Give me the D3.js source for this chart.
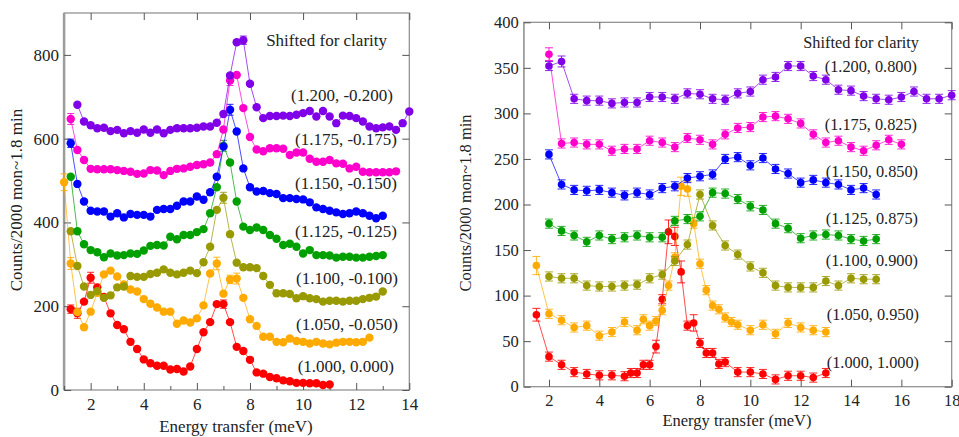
<!DOCTYPE html>
<html><head><meta charset="utf-8">
<script src="https://cdn.jsdelivr.net/npm/d3@7"></script>
<style>
body{margin:0;background:#fff}
svg{display:block;background:#fff}
svg text{font-family:"Liberation Serif","Tinos","Times New Roman","DejaVu Serif",serif !important;fill:#222}
</style>
</head><body>
<svg id="c" width="959" height="437"></svg>
<script>
// ---------------- DATA ----------------
const colors = ["#ff0000","#ffaa00","#999900","#00a000","#0000ff","#ff00cc","#8000e8"];

// Left panel: energy grid (meV)
const leftE = [1.00,1.25,1.50,1.75,2.00,2.25,2.50,2.75,3.00,3.25,3.50,3.75,4.00,4.25,4.50,4.75,5.00,5.25,5.50,5.75,6.00,6.25,6.50,6.75,7.00,7.25,7.50,7.75,8.00,8.25,8.50,8.75,9.00,9.25,9.50,9.75,10.00,10.25,10.50,10.75,11.00,11.25,11.50,11.75,12.00,12.25,12.50,12.75,13.00,13.25,13.50,13.75,14.00];
const leftLabels = ["(1.000, 0.000)","(1.050, -0.050)","(1.100, -0.100)","(1.125, -0.125)","(1.150, -0.150)","(1.175, -0.175)","(1.200, -0.200)"];
const leftRed =    [null,193,183,211,268,245,222,183,155,145,115,98,73,64,58,58,49,50,44,56,98,138,162,205,205,162,103,93,72,42,39,31,28,23,21,17,17,16,16,12,13,null,null,null,null,null,null,null,null,null,null,null,null];
const leftOrange = [496,302,186,150,187,232,276,285,271,252,240,235,217,206,197,187,187,158,166,161,171,202,278,302,230,264,266,220,169,153,127,127,115,114,123,117,115,111,115,111,109,113,115,115,114,115,125,null,null,null,null,null,null];
const leftOlive =  [null,379,296,247,227,236,220,226,245,247,272,270,270,277,280,288,280,276,280,285,279,305,342,430,459,372,304,293,293,291,272,251,231,231,229,219,224,219,217,211,213,213,211,213,213,217,220,223,235,null,null,null,null];
const leftGreen =  [null,509,379,348,334,329,317,326,321,322,326,325,333,344,346,345,366,360,370,370,377,384,422,484,583,543,450,390,382,388,382,370,361,346,349,342,326,334,322,322,321,316,318,318,316,316,318,320,322,null,null,null,null];
const leftBlue =   [null,589,492,450,428,426,426,414,422,412,420,418,418,414,430,432,432,440,450,450,462,454,472,509,581,669,617,529,484,474,475,470,468,458,458,456,455,448,436,432,428,424,420,422,426,422,416,410,416,null,null,null,null];
const leftMagenta =[null,647,573,549,528,527,527,527,525,523,521,516,517,525,524,513,523,528,529,533,537,539,543,563,622,739,752,673,604,574,570,577,577,576,561,567,567,552,545,545,549,541,540,529,533,521,520,520,520,520,522,null,null];
const leftPurple = [null,null,681,641,632,625,626,618,621,613,618,614,622,614,622,613,621,625,625,625,626,629,629,638,659,751,830,835,731,675,649,654,654,655,654,657,661,666,653,666,653,637,655,654,649,641,629,625,627,629,621,637,665];
const leftTicksMajor = [2,4,6,8,10,12,14];
const leftTicksMinor = [1,3,5,7,9,11,13];
const leftYTicks = [0,200,400,600,800];

// Right panel: energy grid (meV)
const rightE = [1.5,2,2.5,3,3.5,4,4.5,5,5.25,5.5,5.75,6,6.25,6.5,6.75,7,7.25,7.5,7.75,8,8.25,8.5,8.75,9,9.25,9.5,10,10.5,11,11.5,12,12.5,13,13.5,14,14.5,15,15.5,16,16.5,17,17.5,18];
const rightLabels = ["(1.000, 1.000)","(1.050, 0.950)","(1.100, 0.900)","(1.125, 0.875)","(1.150, 0.850)","(1.175, 0.825)","(1.200, 0.800)"];
const rightRed =    [79,33,24,16,14,12.5,12.5,11.5, 15,15,24,24,44,96,170,165,126,67,70,48,37,37,25,27,null,16, 16,14,8,12,12,10,15,null,null,null,null,null,null,null,null,null,null];
const rightOrange = [133,80,73,65,67,56,60,71, null,62,74,67,72,84,111,142,220,217,179,135,106,89,85,76,71,68, 62,68,58,70,65,62,60,null,null,null,null,null,null,null,null,null,null];
const rightOlive =  [null,121,119,119,111,110,110,111, null,112,null,119,null,123,null,138,null,156,null,211,null,177,null,155,null,145, 132,125,111,109,109,109,116,111,119,118,118,null,null,null,null,null,null];
const rightGreen =  [null,179,171,166,159,166,162,164, null,166,null,164,null,164,null,182,null,184,null,187,null,213,null,212,null,206, 198,194,179,174,163,166,167,166,162,160,162,null,null,null,null,null,null];
const rightBlue =   [null,255,222,216,215,216,213,210, null,213,null,211,null,218,null,220,null,229,null,231,null,233,null,250,null,252, 243,251,239,234,224,227,224,222,216,218,211,null,null,null,null,null,null];
const rightMagenta =[null,365,267,268,266,266,259,261, null,261,null,270,null,268,null,263,null,273,null,271,null,266,null,277,null,284, 285,296,297,294,289,277,268,270,263,259,265,271,266,null,null,null,null];
const rightPurple = [null,352,357,316,314,314,311,312, null,312,null,318,null,318,null,316,null,322,null,321,null,316,null,315,null,322, 324,337,340,352,352,341,337,326,325,319,316,315,318,324,316,316,320];
const rightTicksMajor = [2,4,6,8,10,12,14,16,18];
const rightYTicks = [0,50,100,150,200,250,300,350,400];

// Error bars (counts): typical size per panel and the larger ones
const leftErrTypical = 4;
const rightErrTypical = 5;
const leftErrLarge = [[1,1.0,20],[1,1.25,14],[0,1.25,10],[0,1.5,12],[0,2.0,13],[5,1.25,13],[4,1.25,10],[4,7.25,13],[3,7.0,13],[2,7.0,13],[1,6.75,15],[1,7.5,13],[1,7.25,10],[6,7.75,10],[5,7.25,12],[0,7.0,10]];
const rightErrLarge = [[0,1.5,7],[0,6.25,7],[0,6.75,13],[0,7.0,10],[0,7.25,12],[0,7.75,9],[1,1.5,10],[1,7.25,10],[1,7.5,8],[5,2.0,7],[6,2.5,6]];

const shiftedText = "Shifted for clarity";
const axisXTitle = "Energy transfer (meV)";
const axisYTitle = "Counts/2000 mon~1.8 min";

// ---------------- DRAW ----------------
const FONT = '"Liberation Serif","Tinos","Times New Roman","DejaVu Serif",serif';
const svg = d3.select("#c");

function drawPanel(p){
  const g = svg.append("g");
  const x = d3.scaleLinear().domain(p.xDomain).range(p.xRange);
  const y = d3.scaleLinear().domain(p.yDomain).range(p.yRange);
  const [x0,x1] = p.xRange, [y0,y1] = p.yRange; // y0 bottom, y1 top

  g.append("rect").attr("x",x0).attr("y",y1).attr("width",x1-x0).attr("height",y0-y1)
    .attr("fill","none").attr("stroke","#8a8a8a").attr("stroke-width",1.2);
  g.append("line").attr("x1",x0).attr("x2",x0).attr("y1",y1).attr("y2",y0)
    .attr("stroke","#9c9c9c").attr("stroke-width",p.leftSpine);

  const styleAxis = sel => {
    sel.attr("font-family",FONT);
    sel.select(".domain").remove();
    sel.selectAll(".tick line").attr("stroke","#555").attr("stroke-width",1);
    sel.selectAll("text").style("font-size",p.font+"px").style("font-family",FONT).attr("fill","#222");
  };
  g.append("g").attr("transform",`translate(0,${y0})`)
    .call(d3.axisBottom(x).tickValues(p.xTicks).tickFormat(d3.format("d")).tickSizeInner(-7).tickSizeOuter(0).tickPadding(p.xPad))
    .call(styleAxis);
  if(p.xMinor){
    g.append("g").attr("transform",`translate(0,${y0})`)
      .call(d3.axisBottom(x).tickValues(p.xMinor).tickFormat("").tickSizeInner(-4).tickSizeOuter(0))
      .call(styleAxis);
  }
  g.append("g").attr("transform",`translate(0,${y1})`)
    .call(d3.axisTop(x).tickValues(p.xTicks).tickFormat("").tickSizeInner(-7).tickSizeOuter(0))
    .call(styleAxis);
  g.append("g").attr("transform",`translate(${x0},0)`)
    .call(d3.axisLeft(y).tickValues(p.yTicks).tickFormat(d3.format("d")).tickSizeInner(-7).tickSizeOuter(0).tickPadding(p.yPad))
    .call(styleAxis);
  g.append("g").attr("transform",`translate(${x1},0)`)
    .call(d3.axisRight(y).tickValues(p.yTicks).tickFormat("").tickSizeInner(-7).tickSizeOuter(0))
    .call(styleAxis);

  const line = d3.line().x(d=>x(d.e)).y(d=>y(d.v));
  p.series.forEach((vals,i)=>{
    const pts = p.E.map((e,j)=>({e, v:vals[j]})).filter(d=>d.v!=null);
    pts.forEach(d=>{
      const o = p.errLarge.find(r=>r[0]===i && Math.abs(r[1]-d.e)<1e-6);
      d.err = o ? o[2] : p.errTypical;
    });
    const sg = g.append("g");
    sg.append("path").datum(pts).attr("d",line).attr("fill","none")
      .attr("stroke",colors[i]).attr("stroke-width",1).attr("stroke-opacity",0.7);
    const eb = sg.selectAll("g.eb").data(pts).join("g").attr("stroke",colors[i]).attr("stroke-width",1).attr("stroke-opacity",0.85);
    const cw = p.cap;
    eb.append("line").attr("x1",d=>x(d.e)).attr("x2",d=>x(d.e)).attr("y1",d=>y(d.v-d.err)).attr("y2",d=>y(d.v+d.err));
    eb.append("line").attr("x1",d=>x(d.e)-cw).attr("x2",d=>x(d.e)+cw).attr("y1",d=>y(d.v+d.err)).attr("y2",d=>y(d.v+d.err));
    eb.append("line").attr("x1",d=>x(d.e)-cw).attr("x2",d=>x(d.e)+cw).attr("y1",d=>y(d.v-d.err)).attr("y2",d=>y(d.v-d.err));
    sg.selectAll("circle").data(pts).join("circle")
      .attr("cx",d=>x(d.e)).attr("cy",d=>y(d.v)).attr("r",p.r).attr("fill",colors[i]);
  });

  const txt = sel => sel.style("font-family",FONT);
  g.append("text").attr("x",p.shifted[0]).attr("y",p.shifted[1]).attr("text-anchor","end")
    .style("font-size",p.labelFont+"px").call(txt).text(shiftedText);
  p.labels.forEach((t,i)=>{
    g.append("text").attr("x",p.labelPos[i][0]).attr("y",p.labelPos[i][1]).attr("text-anchor","end")
      .attr("dominant-baseline","central").style("font-size",p.labelFont+"px").call(txt).text(t);
  });
  g.append("text").attr("x",p.xTitle[0]).attr("y",p.xTitle[1]).attr("text-anchor","middle")
    .style("font-size",p.font+"px").call(txt).text(axisXTitle);
  g.append("text").attr("transform",`translate(${p.yTitle[0]},${p.yTitle[1]}) rotate(-90)`)
    .attr("text-anchor","middle").style("font-size",p.font+"px").call(txt).text(axisYTitle);
}

drawPanel({
  E: leftE, series:[leftRed,leftOrange,leftOlive,leftGreen,leftBlue,leftMagenta,leftPurple],
  labels: leftLabels,
  xDomain:[1,14], xRange:[64.1,409.3], yDomain:[0,900], yRange:[390,13],
  xTicks:leftTicksMajor, xMinor:leftTicksMinor, yTicks:leftYTicks,
  font:17, labelFont:17, xPad:7.5, yPad:5, leftSpine:2.5, r:4.2, cap:3.5,
  errTypical:leftErrTypical, errLarge:leftErrLarge,
  shifted:[387,46],
  labelPos:[[394,366],[398,324],[398,278],[397,231],[397,183],[397,139],[393,95]],
  xTitle:[236,432], yTitle:[22,200]
});
drawPanel({
  E: rightE, series:[rightRed,rightOrange,rightOlive,rightGreen,rightBlue,rightMagenta,rightPurple],
  labels: rightLabels,
  xDomain:[1,18], xRange:[523.8,951.7], yDomain:[0,400], yRange:[386.7,22.3],
  xTicks:rightTicksMajor, xMinor:null, yTicks:rightYTicks,
  font:16.5, labelFont:16.3, xPad:7.3, yPad:5, leftSpine:1.6, r:3.8, cap:4,
  errTypical:rightErrTypical, errLarge:rightErrLarge,
  shifted:[919,47.5],
  labelPos:[[919,362.7],[919,314],[918,260],[918,218.3],[918,171.7],[917,124],[917,66.7]],
  xTitle:[737,426], yTitle:[471,203]
});
</script>
</body></html>
